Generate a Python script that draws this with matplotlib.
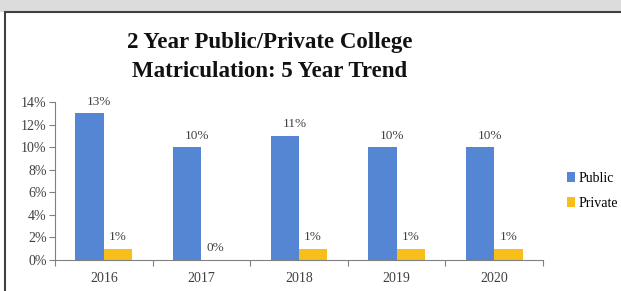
import matplotlib.pyplot as plt
import numpy as np
from matplotlib.patches import Rectangle
from matplotlib.ticker import PercentFormatter

# Chart data
years = ['2016', '2017', '2018', '2019', '2020']
public = [0.13, 0.10, 0.11, 0.10, 0.10]
private = [0.01, 0.00, 0.01, 0.01, 0.01]
public_labels = ['13%', '10%', '11%', '10%', '10%']
private_labels = ['1%', '0%', '1%', '1%', '1%']

blue = '#5486D4'
gold = '#F8BE1A'
serif = 'Liberation Serif'

fig = plt.figure(figsize=(6.21, 2.91), dpi=100)
fig.patch.set_facecolor('white')

# screenshot frame: grey strip at the top and the chart box border
fig.patches.append(Rectangle((0, 1 - 12 / 291), 1, 12 / 291, transform=fig.transFigure,
                             facecolor='#DCDCDC', edgecolor='none', zorder=-10))
fig.patches.append(Rectangle((5 / 621, -0.05), 1.1, 1 - 12 / 291 + 0.05, transform=fig.transFigure,
                             facecolor='white', edgecolor='#404040', linewidth=1.5, zorder=-10))

ax = fig.add_axes([55 / 621, 1 - 260 / 291, (543 - 55) / 621, (260 - 102) / 291])
ax.patch.set_alpha(0)
x = np.arange(len(years))
w = 0.29
ax.bar(x - w / 2, public, w, color=blue, label='Public')
ax.bar(x + w / 2, private, w, color=gold, label='Private')

for i in range(len(years)):
    ax.annotate(public_labels[i], (x[i] - w / 2, public[i]), xytext=(7, 4),
                textcoords='offset points', ha='center', va='bottom',
                fontsize=9.5, family=serif, color='#404040')
    ax.annotate(private_labels[i], (x[i] + w / 2, private[i]), xytext=(0, 4),
                textcoords='offset points', ha='center', va='bottom',
                fontsize=9.5, family=serif, color='#404040')

ax.set_xlim(-0.5, len(years) - 0.5)
ax.set_ylim(0, 0.14)
ax.set_yticks(np.arange(0, 0.141, 0.02))
ax.yaxis.set_major_formatter(PercentFormatter(1.0, decimals=0))
ax.set_xticks(np.arange(-0.5, len(years), 1))
ax.set_xticklabels([])
ax.set_xticks(x, minor=True)
ax.set_xticklabels(years, minor=True)
ax.tick_params(axis='x', which='minor', length=0, pad=9)
ax.tick_params(axis='x', which='major', length=4, color='#808080')
ax.tick_params(axis='y', length=4, color='#808080', pad=2)
for lab in ax.get_xticklabels(minor=True) + ax.get_yticklabels():
    lab.set_family(serif)
    lab.set_fontsize(10)
    lab.set_color('#404040')
for s in ['top', 'right']:
    ax.spines[s].set_visible(False)
for s in ['left', 'bottom']:
    ax.spines[s].set_color('#808080')

fig.text(270 / 621, 1 - 57 / 291, '2 Year Public/Private College\nMatriculation: 5 Year Trend',
         ha='center', va='center', fontsize=16.5, fontweight='bold', family=serif,
         linespacing=1.45, color='#111111')

fig.legend(loc='center left', bbox_to_anchor=(567 / 621, 1 - 191 / 291), frameon=False,
           prop={'family': serif, 'size': 10}, handlelength=0.55, handleheight=0.7,
           handletextpad=0.25, labelspacing=0.85, borderaxespad=0, borderpad=0)

fig.savefig('out.png', dpi=100)
